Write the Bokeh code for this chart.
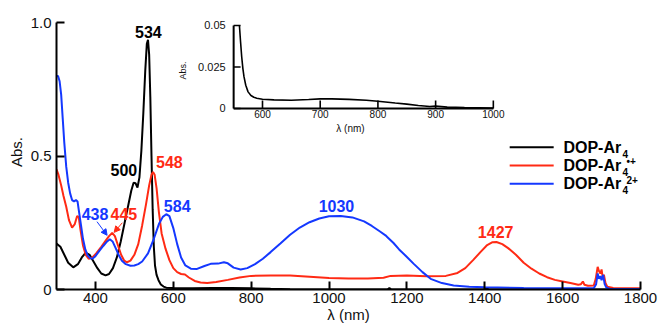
import math
from bokeh.plotting import figure
from bokeh.models import Range1d, FixedTicker, Label, Arrow, NormalHead
from bokeh.core.properties import value
from bokeh.embed import file_html
from bokeh.resources import INLINE

FONT = "Liberation Sans"

# ---------------- data ----------------
wl_black = [300, 310, 320, 330, 343, 355, 365, 375, 385, 395, 405, 415, 426, 435, 445,
            455, 465, 475, 485, 492, 498, 503, 508, 513, 518, 523, 528, 532, 535, 538,
            541, 544, 547, 550, 553, 557, 562, 568, 575, 582, 600, 650, 700, 750, 800,
            850, 900, 1000, 1100, 1150, 1155, 1160, 1400, 1405, 1410, 1800]
abs_black = [0.172, 0.160, 0.130, 0.100, 0.083, 0.095, 0.120, 0.138, 0.130, 0.105, 0.080,
             0.060, 0.053, 0.058, 0.080, 0.120, 0.180, 0.250, 0.320, 0.370, 0.400, 0.398,
             0.382, 0.420, 0.520, 0.660, 0.820, 0.920, 0.935, 0.880, 0.720, 0.500, 0.300,
             0.160, 0.090, 0.055, 0.035, 0.019, 0.011, 0.007, 0.0056, 0.005, 0.0058,
             0.0055, 0.0044, 0.0026, 0.001, 0.0003, 0.0, 0.0, 0.006, 0.0, 0.0, 0.006, 0.0, 0.0]

wl_red = [300, 305, 312, 318, 325, 332, 340, 347, 353, 357, 362, 368, 375, 383, 392, 402,
          415, 425, 435, 443, 450, 458, 466, 474, 481, 490, 500, 510, 520, 530, 538, 544,
          548, 552, 557, 563, 570, 580, 590, 600, 610, 620, 630, 640, 655, 670, 687, 710,
          740, 770, 800, 850, 900, 950, 1000, 1050, 1100, 1140, 1158, 1200, 1250, 1300,
          1330, 1350, 1370, 1390, 1405, 1420, 1430, 1445, 1460, 1480, 1500, 1520, 1540,
          1560, 1580, 1600, 1620, 1640, 1647, 1652, 1656, 1665, 1680, 1685, 1690, 1693,
          1697, 1700, 1703, 1706, 1710, 1715, 1730, 1800]
abs_red = [0.450, 0.430, 0.390, 0.350, 0.310, 0.260, 0.232, 0.245, 0.275, 0.272, 0.220,
           0.165, 0.130, 0.115, 0.120, 0.135, 0.160, 0.180, 0.200, 0.212, 0.200, 0.165,
           0.130, 0.108, 0.102, 0.108, 0.130, 0.170, 0.240, 0.320, 0.390, 0.430, 0.440,
           0.430, 0.380, 0.290, 0.210, 0.153, 0.110, 0.080, 0.065, 0.058, 0.056, 0.045,
           0.032, 0.026, 0.024, 0.028, 0.036, 0.045, 0.051, 0.052, 0.052, 0.048, 0.043,
           0.041, 0.041, 0.044, 0.051, 0.052, 0.050, 0.051, 0.062, 0.080, 0.110, 0.142,
           0.165, 0.177, 0.178, 0.170, 0.155, 0.130, 0.100, 0.078, 0.060, 0.046, 0.036,
           0.030, 0.024, 0.018, 0.020, 0.030, 0.018, 0.014, 0.015, 0.040, 0.085, 0.070,
           0.060, 0.075, 0.045, 0.055, 0.025, 0.010, 0.006, 0.005]

wl_blue = [300, 304, 308, 312, 316, 320, 325, 330, 335, 340, 345, 350, 354, 358, 363, 368,
           374, 380, 387, 393, 400, 410, 420, 430, 437, 444, 452, 460, 468, 478, 490, 500,
           510, 520, 535, 550, 563, 573, 582, 590, 600, 610, 620, 631, 645, 661, 680, 696,
           715, 730, 740, 755, 773, 790, 810, 830, 850, 875, 900, 925, 950, 975, 1000,
           1030, 1060, 1090, 1110, 1130, 1145, 1150, 1165, 1180, 1200, 1217, 1240, 1261,
           1290, 1320, 1360, 1400, 1500, 1600, 1680, 1686, 1690, 1693, 1697, 1700, 1704,
           1708, 1712, 1720, 1800]
abs_blue = [0.800, 0.800, 0.780, 0.730, 0.640, 0.550, 0.460, 0.400, 0.360, 0.335, 0.330,
            0.335, 0.330, 0.290, 0.240, 0.190, 0.150, 0.128, 0.117, 0.116, 0.125, 0.145,
            0.163, 0.180, 0.188, 0.180, 0.155, 0.128, 0.108, 0.095, 0.089, 0.090, 0.095,
            0.105, 0.135, 0.190, 0.245, 0.272, 0.282, 0.275, 0.230, 0.170, 0.120, 0.090,
            0.078, 0.077, 0.088, 0.096, 0.097, 0.102, 0.098, 0.082, 0.075, 0.080, 0.095,
            0.115, 0.140, 0.172, 0.205, 0.232, 0.252, 0.266, 0.274, 0.275, 0.270, 0.255,
            0.238, 0.218, 0.203, 0.196, 0.175, 0.150, 0.122, 0.097, 0.065, 0.040, 0.024,
            0.015, 0.010, 0.008, 0.006, 0.005, 0.005, 0.020, 0.060, 0.040, 0.050, 0.035,
            0.055, 0.020, 0.008, 0.003, 0.002]

# inset: neutral compound, 560-1000 nm
wl_inset = [560, 562, 564, 566, 568, 571, 575, 580, 585, 590, 600, 620, 650, 680, 700,
            720, 750, 780, 800, 830, 850, 870, 890, 900, 920, 950, 1000]
abs_inset = [0.050, 0.040, 0.031, 0.024, 0.019, 0.014, 0.010, 0.0078, 0.0068, 0.0062,
             0.0056, 0.0052, 0.0050, 0.0054, 0.0058, 0.0058, 0.0055, 0.0050, 0.0044,
             0.0033, 0.0026, 0.0018, 0.0012, 0.0015, 0.0008, 0.0005, 0.0003]

x_ticks = [400, 600, 800, 1000, 1200, 1400, 1600, 1800]
y_ticks = [0, 0.5, 1.0]
y_tick_labels = ["0", "0.5", "1.0"]
inset_x_ticks = [600, 700, 800, 900, 1000]
inset_y_ticks = [0, 0.025, 0.05]
inset_y_labels = ["0", "0.025", "0.05"]

peak_labels = ["534", "500", "548", "438", "445", "584", "1030", "1427"]
series_names = ["DOP-Ar", "DOP-Ar", "DOP-Ar"]
series_sup = ["", "\u2022+", "2+"]

BLACK = "#000000"
RED = "#ff2a14"
BLUE = "#1438ff"

# ---------------- figure ----------------
# y range extends a little above 1.0 (axis bounded to 0..1) so the inset labels fit
p = figure(width=660, height=326, x_range=Range1d(300, 1800), y_range=Range1d(0, 1.03),
           output_backend="svg", toolbar_location=None,
           min_border_left=56, min_border_right=20, min_border_top=14, min_border_bottom=37)
p.outline_line_color = None
p.xgrid.visible = False
p.ygrid.visible = False
p.background_fill_color = "white"

for ax in (p.xaxis[0], p.yaxis[0]):
    ax.axis_line_width = 2
    ax.major_tick_line_width = 2
    ax.major_tick_in = 8
    ax.major_tick_out = 0
    ax.minor_tick_line_color = None
    ax.major_label_text_font = FONT
    ax.major_label_text_font_size = "15px"
    ax.major_label_text_color = "#111111"
    ax.axis_label_text_font = FONT
    ax.axis_label_text_font_size = "15px"
    ax.axis_label_text_font_style = "normal"
    ax.axis_label_text_color = "#111111"

p.xaxis.ticker = FixedTicker(ticks=x_ticks)
p.xaxis.major_label_standoff = 3
p.xaxis.axis_label = "\u03bb (nm)"
p.xaxis.axis_label_standoff = 0
p.yaxis.ticker = FixedTicker(ticks=y_ticks)
p.yaxis.bounds = (0, 1.0)
p.yaxis.major_label_overrides = {t: l for t, l in zip(y_ticks, y_tick_labels)}
p.yaxis.major_label_standoff = 5
p.yaxis.axis_label = "Abs."
p.yaxis.axis_label_standoff = 3

# spectra
p.line(wl_black, abs_black, line_color=BLACK, line_width=2)
p.line(wl_red, abs_red, line_color=RED, line_width=2)
p.line(wl_blue, abs_blue, line_color=BLUE, line_width=2)

# peak labels
lab_pos = [(536, 0.966, BLACK), (473, 0.449, BLACK), (590, 0.477, RED), (399, 0.281, BLUE),
           (473, 0.281, RED), (610, 0.311, BLUE), (1019, 0.311, BLUE), (1428, 0.217, RED)]
for txt, (lx, ly, c) in zip(peak_labels, lab_pos):
    p.add_layout(Label(x=lx, y=ly, text=txt, text_align="center", text_baseline="middle",
                       text_font=FONT, text_font_size="16px", text_font_style="bold",
                       text_color=c))

p.add_layout(Arrow(x_start=404, y_start=0.254, x_end=430, y_end=0.203, line_color=BLUE,
                   line_width=1, end=NormalHead(size=6, fill_color=BLUE, line_color=BLUE)))
p.add_layout(Arrow(x_start=469, y_start=0.250, x_end=448, y_end=0.214, line_color=RED,
                   line_width=1, end=NormalHead(size=6, fill_color=RED, line_color=RED)))

# legend (manual, to stack sub- and superscripts)
rows = [0.533, 0.464, 0.396]
for name, sup, c, ry in zip(series_names, series_sup, [BLACK, RED, BLUE], rows):
    p.line([1464, 1577], [ry, ry], line_color=c, line_width=2)
    p.add_layout(Label(x=1602, y=ry, text=name, text_font=FONT, text_font_size="16px",
                       text_font_style="bold", text_color=BLACK, text_baseline="middle"))
    p.add_layout(Label(x=1754, y=ry - 0.025, text="4", text_font=FONT, text_font_size="10px",
                       text_font_style="bold", text_color=BLACK, text_baseline="middle"))
    if sup:
        p.add_layout(Label(x=1764, y=ry + 0.014, text=sup, text_font=FONT,
                           text_font_size="10px", text_font_style="bold", text_color=BLACK,
                           text_baseline="middle"))

# ---------------- inset ----------------
sub = p.subplot(x_source=Range1d(550, 1000), y_source=Range1d(0, 0.05),
                x_target=Range1d(755, 1422), y_target=Range1d(0.678, 0.989))
sub.line(wl_inset, abs_inset, line_color=BLACK, line_width=1.6)
sub.segment(x0=[550, 550], y0=[0, 0], x1=[1000, 550], y1=[0, 0.05], line_color=BLACK,
            line_width=2)
sub.segment(x0=inset_x_ticks, y0=[0] * len(inset_x_ticks), x1=inset_x_ticks,
            y1=[0.0048] * len(inset_x_ticks), line_color=BLACK, line_width=1.6)
sub.segment(x0=[550] * len(inset_y_ticks), y0=inset_y_ticks, x1=[562] * len(inset_y_ticks),
            y1=inset_y_ticks, line_color=BLACK, line_width=1.6)
sub.text(x=inset_x_ticks, y=[0] * len(inset_x_ticks), text=[str(t) for t in inset_x_ticks],
         text_align="center", text_baseline="top", y_offset=2, text_font=value(FONT),
         text_font_size="10px", text_color="#111111")
sub.text(x=[550] * len(inset_y_ticks), y=inset_y_ticks, text=inset_y_labels,
         text_align="right", text_baseline="middle", x_offset=-8, text_font=value(FONT),
         text_font_size="11px", text_color="#111111")
p.add_layout(Label(x=626, y=0.82, text="Abs.", angle=math.pi / 2, text_align="center",
                   text_baseline="middle", text_font=FONT, text_font_size="9px",
                   text_color="#111111"))
p.add_layout(Label(x=1055, y=0.603, text="\u03bb (nm)", text_align="center",
                   text_baseline="middle", text_font=FONT, text_font_size="10px",
                   text_color="#111111"))

open("out.html", "w").write(file_html(p, INLINE))
